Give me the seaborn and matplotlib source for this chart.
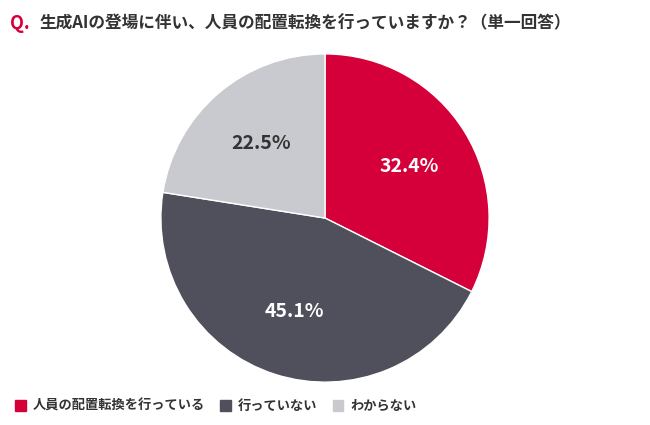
import matplotlib.pyplot as plt
import seaborn as sns
import numpy as np
from matplotlib.patches import Patch

sns.set_theme(style="white")
plt.rcParams['font.family'] = 'Noto Sans CJK JP'

labels = ['人員の配置転換を行っている', '行っていない', 'わからない']
values = [32.4, 45.1, 22.5]
colors = ['#d5003a', '#50505c', '#c9c9d0']

fig = plt.figure(figsize=(6.5, 4.25), dpi=100)
ax = fig.add_axes([0.245, 0.097, 0.51, 0.78])
wedges, texts = ax.pie(values, colors=colors, startangle=90, counterclock=False,
                       wedgeprops=dict(linewidth=1, edgecolor='white'))
ax.set_xlim(-1.01, 1.01)
ax.set_ylim(-1.01, 1.01)
ax.set_aspect('equal')

# percentage labels
ang0 = 90
for v in values:
    mid = np.deg2rad(ang0 - v * 3.6 / 2)
    ax.text(0.6 * np.cos(mid), 0.6 * np.sin(mid), f'{v}%', ha='center', va='center',
            color='white' if v != 22.5 else '#333333', fontsize=14, fontweight='bold')
    ang0 -= v * 3.6

fig.text(0.015, 0.945, 'Q.', color='#d5003a', fontsize=13, fontweight='bold', va='center')
fig.text(0.06, 0.945, '生成AIの登場に伴い、人員の配置転換を行っていますか？（単一回答）',
         color='#333333', fontsize=12, fontweight='bold', va='center')

handles = [Patch(color=c) for c in colors]
leg = fig.legend(handles, labels, loc='lower left', bbox_to_anchor=(0.005, 0.0), ncol=3,
                 frameon=False, fontsize=9.5, handlelength=0.8, handleheight=0.8,
                 columnspacing=1.2, handletextpad=0.5)
for t in leg.get_texts():
    t.set_fontweight('bold')
    t.set_color('#333333')

fig.savefig('out.png', dpi=100)
